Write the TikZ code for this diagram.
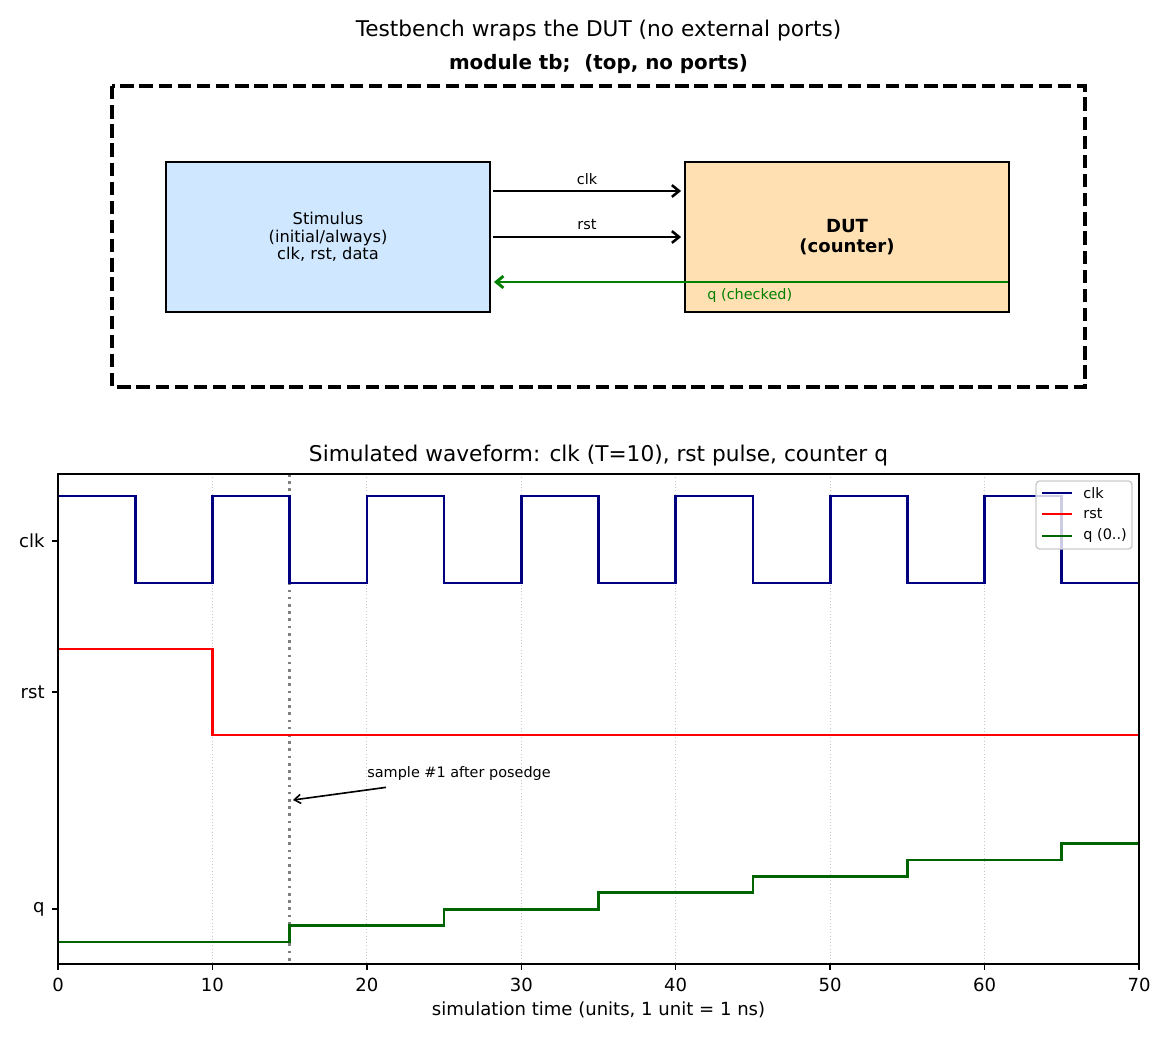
\documentclass[tikz,border=0pt]{standalone}
\usepackage{fontspec}
\setmainfont{DejaVu Sans}
\usetikzlibrary{arrows.meta,calc}
\definecolor{stimfill}{HTML}{CFE8FF}
\definecolor{dutfill}{HTML}{FFE0B2}
\definecolor{clkc}{HTML}{000080}
\definecolor{rstc}{HTML}{FF0000}
\definecolor{qc}{HTML}{006400}
\definecolor{arrg}{HTML}{008000}
\definecolor{legedge}{HTML}{CCCCCC}
\definecolor{gridc}{HTML}{C8C8C8}
\begin{document}
\begin{tikzpicture}[x=0.55385pt,y=-0.55385pt,
  blockbox/.style={draw=black, line width=1pt, minimum width=179.45pt, minimum height=83.08pt, inner sep=0pt, align=center},
  sigarrow/.style={line width=1.4pt, -{Straight Barb[length=4pt,width=6.5pt]}},
  smalllbl/.style={font=\fontsize{8}{9.6}\selectfont, inner sep=0pt},
  ticklbl/.style={font=\fontsize{10}{12}\selectfont, inner sep=0pt},
  titlelbl/.style={font=\fontsize{12}{14}\selectfont, inner sep=0pt},
  spine/.style={line width=0.8pt, black},
  tickmark/.style={line width=0.8pt, black},
  gridline/.style={gridc, line width=0.6pt, dash pattern=on 0.6pt off 1.2pt},
  siglin/.style={line width=1.5pt, line join=miter},
  leglbl/.style={font=\fontsize{8}{9.6}\selectfont, inner sep=0pt, anchor=west}]
\useasboundingbox (0,0) rectangle (1170,1040);
\fill[white] (0,0) rectangle (1170,1040);

% ---------- top panel ----------
\node[titlelbl] (toptitle) at (598.5,31) {Testbench wraps the DUT (no external ports)};
\node[font=\fontsize{11}{13}\selectfont\bfseries, inner sep=0pt] (modlbl) at (598.5,64) {module tb;\ \ (top, no ports)};
\draw[line width=2pt, dash pattern=on 7.4pt off 3.2pt] (112,86) rectangle (1085,387);

\node[blockbox, fill=stimfill, font=\fontsize{9}{9.8}\selectfont] (stim) at (328,237) {Stimulus\\(initial/always)\\clk, rst, data};
\node[blockbox, fill=dutfill, font=\fontsize{10}{11.2}\selectfont\bfseries] (dut) at (847,237) {DUT\\(counter)};

\draw[sigarrow] ($(stim.east)+(2,-46)$) -- ($(dut.west)+(-3,-46)$);
\draw[sigarrow] ($(stim.east)+(2,0)$) -- ($(dut.west)+(-3,0)$);
\draw[sigarrow, arrg, line width=1.6pt] ($(dut.east)+(-2,45)$) -- ($(stim.east)+(3,45)$);
\node[smalllbl] (clklbl) at (587,179) {clk};
\node[smalllbl] (rstlbl) at (587,225) {rst};
\node[smalllbl, text=arrg, anchor=west] (qlbl) at (707,296) {q (checked)};

% ---------- bottom panel ----------
\node[titlelbl] (wavetitle) at (598.5,456) {Simulated waveform: clk (T=10), rst pulse, counter q};

\begin{scope}[xshift=32.123pt, x=8.5531pt]
  \foreach \t in {10,20,...,60} { \draw[gridline] (\t,474) -- (\t,964); }
  \draw[gray, line width=1.5pt, dash pattern=on 1.5pt off 2.5pt] (15,474) -- (15,964);
  \draw[siglin, clkc] (0,583) -- (0,496) -- (5,496) -- (5,583) -- (10,583) -- (10,496) -- (15,496) -- (15,583) -- (20,583) -- (20,496) -- (25,496) -- (25,583) -- (30,583) -- (30,496) -- (35,496) -- (35,583) -- (40,583) -- (40,496) -- (45,496) -- (45,583) -- (50,583) -- (50,496) -- (55,496) -- (55,583) -- (60,583) -- (60,496) -- (65,496) -- (65,583) -- (70,583);
  \draw[siglin, rstc] (0,649) -- (10,649) -- (10,735) -- (70,735);
  \draw[siglin, qc] (0,942) -- (15,942) -- (15,925.6) -- (25,925.6) -- (25,909.2) -- (35,909.2) -- (35,892.8) -- (45,892.8) -- (45,876.4) -- (55,876.4) -- (55,860) -- (65,860) -- (65,843.6) -- (70,843.6);
  \foreach \t in {0,10,...,70} {
    \draw[tickmark] (\t,964) -- (\t,970.3);
    \node[ticklbl] (xt\t) at (\t,985) {\t};
  }
\end{scope}

\draw[spine] (58,474) rectangle (1139,964);

% y ticks
\draw[tickmark] (51.7,541) -- (58,541);
\draw[tickmark] (51.7,692) -- (58,692);
\draw[tickmark] (51.7,909) -- (58,909);
\node[ticklbl, anchor=east] (ytclk) at (45,541) {clk};
\node[ticklbl, anchor=east] (ytrst) at (45,692) {rst};
\node[ticklbl, anchor=east] (ytq) at (45,909) {q};

\node[ticklbl] (xlabel) at (598.5,1010) {simulation time (units, 1 unit = 1 ns)};

% annotation
\node[smalllbl, anchor=west] (annot) at (367,774) {sample \#1 after posedge};
\coordinate (sampt) at (293,800);
\draw[line width=0.9pt, -{Straight Barb[length=3.5pt,width=5pt]}] ($(annot.south west)+(19,6)$) -- (sampt);

% legend
\draw[legedge, fill=white, fill opacity=0.8, rounded corners=2pt, line width=0.8pt] (1036,481) rectangle (1132,549);
\draw[siglin, clkc] (1042,493) -- (1072,493);
\draw[siglin, rstc] (1042,514) -- (1072,514);
\draw[siglin, qc] (1042,536) -- (1072,536);
\node[leglbl] (legclk) at (1083,493) {clk};
\node[leglbl] (legrst) at (1083,514) {rst};
\node[leglbl] (legq) at (1083,536) {q (0..)};
\end{tikzpicture}
\end{document}
